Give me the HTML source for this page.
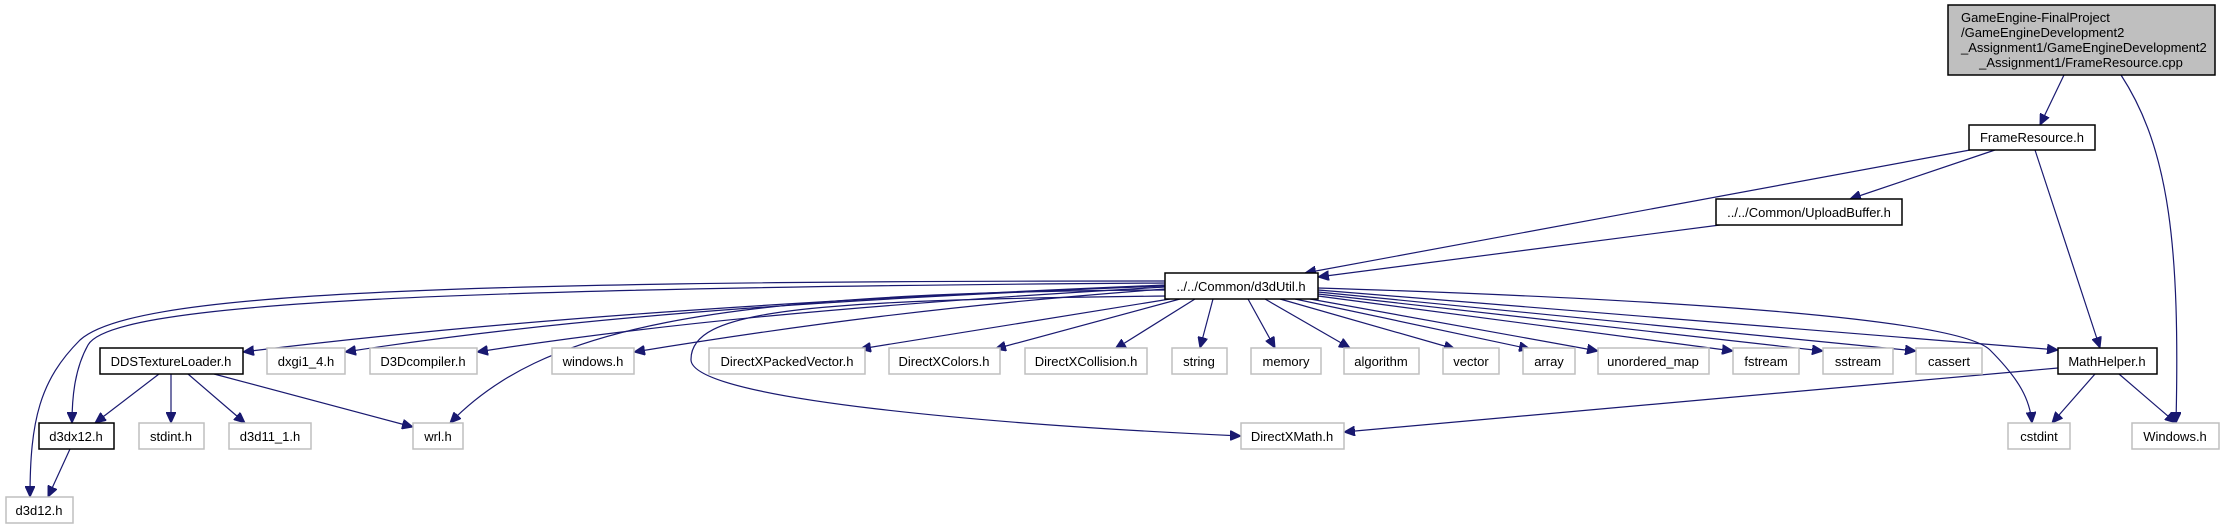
<!DOCTYPE html>
<html><head><meta charset="utf-8"><style>
html,body{margin:0;padding:0;background:#fff;}
svg{display:block;}
text{font-family:"Liberation Sans",Arial,sans-serif;font-size:13px;fill:#000;}
.n{fill:#fff;stroke:#bfbfbf;stroke-width:1.5;}
.b{fill:#fff;stroke:#000;stroke-width:1.5;}
.e{fill:none;stroke:#191970;stroke-width:1.2;}
</style></head><body>
<svg width="2224" height="529" viewBox="0 0 2224 529" xmlns="http://www.w3.org/2000/svg">
<defs><marker id="a" markerUnits="userSpaceOnUse" markerWidth="12" markerHeight="10" refX="11" refY="5" orient="auto"><path d="M0,0 L11,5 L0,10 z" fill="#191970" stroke="#191970"/></marker></defs>
<g marker-end="url(#a)">
<path class="e" d="M2064,75 L2040,125"/>
<path class="e" d="M2121,75 C2170,150 2180,250 2176,423"/>
<path class="e" d="M1970,150 L1305,273"/>
<path class="e" d="M1995,150 L1850,199"/>
<path class="e" d="M2035,150 L2100,348"/>
<path class="e" d="M1720,225 L1318,277"/>
<path class="e" d="M1165,281 C400,281 130,295 80,340 C40,380 30,420 30,497"/>
<path class="e" d="M1165,283 C400,288 110,305 88,345 C74,370 72,400 72,423"/>
<path class="e" d="M1165,285 C800,300 500,320 243,352"/>
<path class="e" d="M1165,286 C800,300 550,320 345,352"/>
<path class="e" d="M1165,287 C850,305 650,325 477,352"/>
<path class="e" d="M1165,289 C950,305 800,325 634,352"/>
<path class="e" d="M1165,290 C700,292 540,330 450,423"/>
<path class="e" d="M1168,296 C800,300 690,310 691,360 C693,400 1000,425 1241,436"/>
<path class="e" d="M1170,299 L860,349"/>
<path class="e" d="M1180,299 L995,349"/>
<path class="e" d="M1195,299 L1115,349"/>
<path class="e" d="M1213,299 L1200,348"/>
<path class="e" d="M1248,299 L1275,348"/>
<path class="e" d="M1265,299 L1350,348"/>
<path class="e" d="M1280,299 L1455,349"/>
<path class="e" d="M1295,299 L1530,349"/>
<path class="e" d="M1310,299 L1598,351"/>
<path class="e" d="M1318,296 L1733,351"/>
<path class="e" d="M1318,294 L1823,351"/>
<path class="e" d="M1318,292 L1916,351"/>
<path class="e" d="M1318,290 L2058,350"/>
<path class="e" d="M1318,288 C1700,300 1960,320 1990,350 C2020,380 2030,400 2032,423"/>
<path class="e" d="M159,374 L95,423"/>
<path class="e" d="M171,374 L171,423"/>
<path class="e" d="M188,374 L245,423"/>
<path class="e" d="M214,374 L413,427"/>
<path class="e" d="M70,449 L48,497"/>
<path class="e" d="M2058,368 L1344,432"/>
<path class="e" d="M2095,374 L2052,423"/>
<path class="e" d="M2119,374 L2176,423"/>
</g>
<rect x="1948" y="5" width="267" height="70" fill="#bfbfbf" stroke="#000" stroke-width="1.5"/>
<text x="1961" y="22">GameEngine-FinalProject</text>
<text x="1961" y="37">/GameEngineDevelopment2</text>
<text x="1961" y="52">_Assignment1/GameEngineDevelopment2</text>
<text x="2081" y="67" text-anchor="middle">_Assignment1/FrameResource.cpp</text>
<g text-anchor="middle">
<rect class="b" x="1969" y="125" width="126" height="25"/><text x="2032" y="142">FrameResource.h</text>
<rect class="b" x="1716" y="199" width="186" height="26"/><text x="1809" y="217">../../Common/UploadBuffer.h</text>
<rect class="b" x="1165" y="273" width="153" height="26"/><text x="1241" y="291">../../Common/d3dUtil.h</text>
<rect class="b" x="100" y="348" width="143" height="26"/><text x="171" y="366">DDSTextureLoader.h</text>
<rect class="n" x="267" y="348" width="78" height="26"/><text x="306" y="366">dxgi1_4.h</text>
<rect class="n" x="370" y="348" width="107" height="26"/><text x="423" y="366">D3Dcompiler.h</text>
<rect class="n" x="552" y="348" width="82" height="26"/><text x="593" y="366">windows.h</text>
<rect class="n" x="709" y="348" width="156" height="26"/><text x="787" y="366">DirectXPackedVector.h</text>
<rect class="n" x="889" y="348" width="111" height="26"/><text x="944" y="366">DirectXColors.h</text>
<rect class="n" x="1025" y="348" width="122" height="26"/><text x="1086" y="366">DirectXCollision.h</text>
<rect class="n" x="1172" y="348" width="55" height="26"/><text x="1199" y="366">string</text>
<rect class="n" x="1251" y="348" width="70" height="26"/><text x="1286" y="366">memory</text>
<rect class="n" x="1344" y="348" width="75" height="26"/><text x="1381" y="366">algorithm</text>
<rect class="n" x="1443" y="348" width="56" height="26"/><text x="1471" y="366">vector</text>
<rect class="n" x="1523" y="348" width="52" height="26"/><text x="1549" y="366">array</text>
<rect class="n" x="1598" y="348" width="111" height="26"/><text x="1653" y="366">unordered_map</text>
<rect class="n" x="1733" y="348" width="66" height="26"/><text x="1766" y="366">fstream</text>
<rect class="n" x="1823" y="348" width="70" height="26"/><text x="1858" y="366">sstream</text>
<rect class="n" x="1916" y="348" width="66" height="26"/><text x="1949" y="366">cassert</text>
<rect class="b" x="2058" y="348" width="99" height="26"/><text x="2107" y="366">MathHelper.h</text>
<rect class="b" x="39" y="423" width="75" height="26"/><text x="76" y="441">d3dx12.h</text>
<rect class="n" x="139" y="423" width="65" height="26"/><text x="171" y="441">stdint.h</text>
<rect class="n" x="229" y="423" width="82" height="26"/><text x="270" y="441">d3d11_1.h</text>
<rect class="n" x="413" y="423" width="50" height="26"/><text x="438" y="441">wrl.h</text>
<rect class="n" x="1241" y="423" width="103" height="26"/><text x="1292" y="441">DirectXMath.h</text>
<rect class="n" x="2008" y="423" width="62" height="26"/><text x="2039" y="441">cstdint</text>
<rect class="n" x="2132" y="423" width="87" height="26"/><text x="2175" y="441">Windows.h</text>
<rect class="n" x="6" y="497" width="67" height="26"/><text x="39" y="515">d3d12.h</text>
</g>
</svg>
</body></html>
